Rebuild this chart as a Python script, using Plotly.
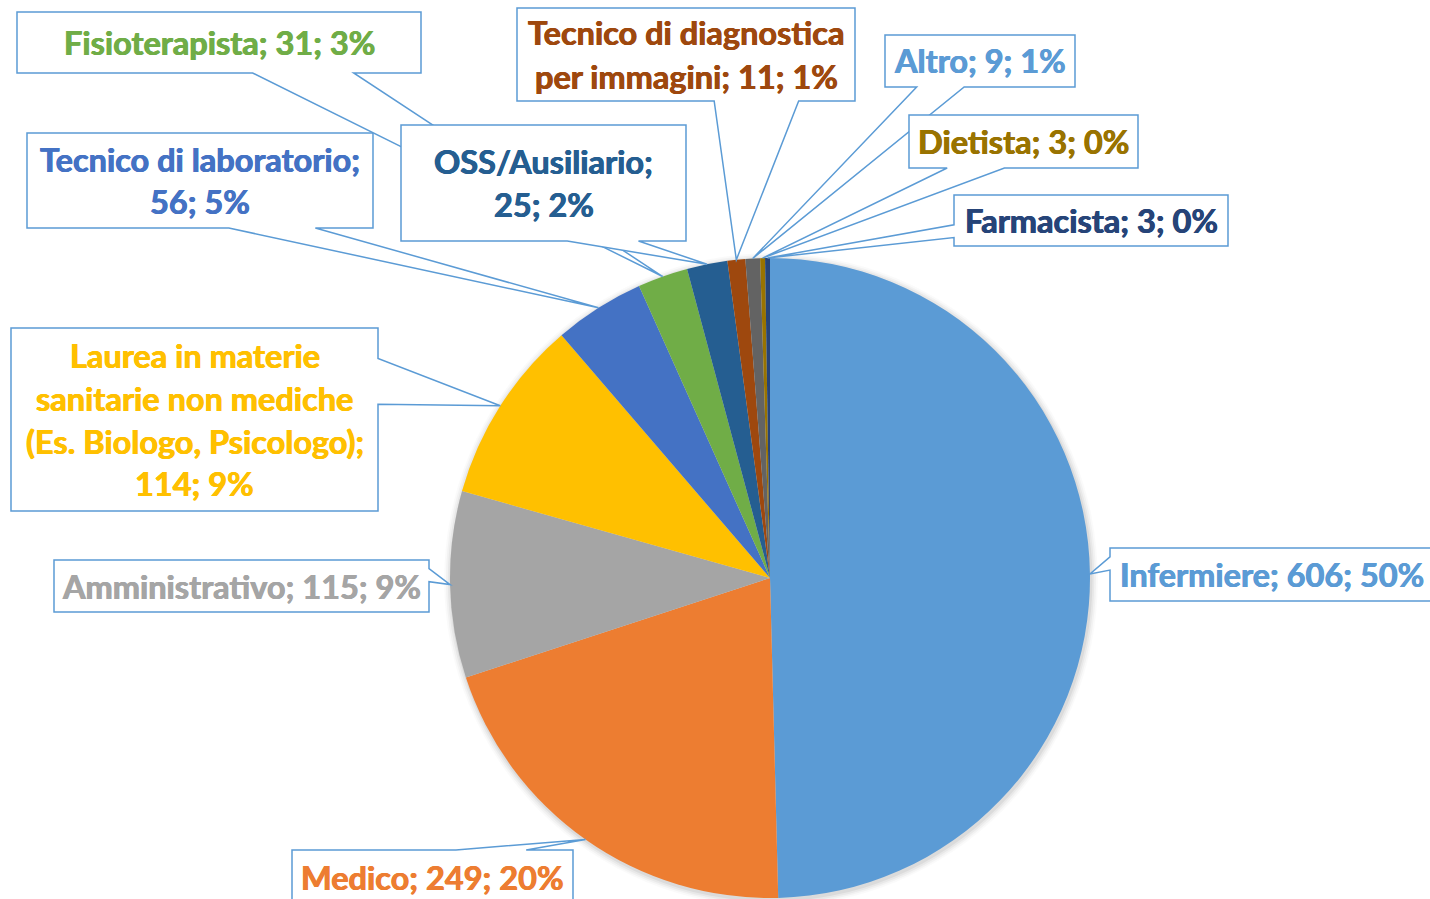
import math
import plotly.graph_objects as go

# ---------------- data ----------------
categories = [
    "Infermiere",
    "Medico",
    "Amministrativo",
    "Laurea in materie sanitarie non mediche (Es. Biologo, Psicologo)",
    "Tecnico di laboratorio",
    "Fisioterapista",
    "OSS/Ausiliario",
    "Tecnico di diagnostica per immagini",
    "Altro",
    "Dietista",
    "Farmacista",
]
values = [606, 249, 115, 114, 56, 31, 25, 11, 9, 3, 3]
slice_colors = ["#5B9BD5", "#ED7D31", "#A5A5A5", "#FFC000", "#4472C4", "#70AD47",
                "#255E91", "#9E480E", "#636363", "#997300", "#264478"]
label_colors = ["#5B9BD5", "#ED7D31", "#A5A5A5", "#FFC000", "#4472C4", "#70AD47",
                "#255E91", "#9E480E", "#5B9BD5", "#997300", "#264478"]
# words per line of each wrapped label
words_per_line = [[4], [3], [3], [3, 3, 3, 2], [3, 2], [3], [1, 2], [3, 4], [3], [3], [3]]

# ---------------- layout (pixels) ----------------
W, H = 1430, 899
CX, CY, R = 770, 578, 320
# callout boxes: (left, top, right, bottom)
boxes = [
    (1110, 548, 1433, 601),
    (292, 850, 573, 904),
    (54, 560, 429, 612),
    (11, 328, 378, 511),
    (27, 133, 373, 228),
    (17, 12, 421, 73),
    (401, 125, 686, 241),
    (517, 8, 855, 101),
    (885, 35, 1075, 87),
    (909, 115, 1138, 168),
    (954, 195, 1228, 246),
]
line_step = 43
FONT = "Lato"
FSIZE = 32.5
EDGE = "#5B9BD5"


def px(x):
    return x / W


def py(y):
    return 1 - y / H


total = sum(values)
fig = go.Figure()

fig.add_trace(go.Pie(
    labels=categories,
    values=values,
    sort=False,
    direction="clockwise",
    rotation=0,
    marker=dict(colors=slice_colors, line=dict(width=0)),
    textinfo="none",
    hoverinfo="label+value+percent",
    showlegend=False,
    domain=dict(x=[px(CX - R), px(CX + R)], y=[py(CY + R), py(CY - R)]),
))

shapes = []
# soft shadow around the pie
for i, op in enumerate([0.05, 0.04, 0.03, 0.02]):
    rr = R + 1.5 + i * 1.8
    shapes.append(dict(type="circle", xref="paper", yref="paper", layer="below",
                       x0=px(CX - rr + 1), x1=px(CX + rr + 1),
                       y0=py(CY + rr + 2), y1=py(CY - rr + 2),
                       fillcolor=f"rgba(0,0,0,{op})", line=dict(width=0)))

annotations = []
cum = 0
for i, v in enumerate(values):
    mid = (cum + v / 2) / total * 2 * math.pi
    cum += v
    tx = CX + R * math.sin(mid)
    ty = CY - R * math.cos(mid)
    l, t, r, b = boxes[i]
    w, h = r - l, b - t
    bcx, bcy = (l + r) / 2, (t + b) / 2
    dx, dy = tx - bcx, ty - bcy
    dz = abs(dy) - abs(dx) * h / w
    x1 = l + w * (7 if dx > 0 else 2) / 12
    x2 = l + w * (10 if dx > 0 else 5) / 12
    y1 = t + h * (7 if dy > 0 else 2) / 12
    y2 = t + h * (10 if dy > 0 else 5) / 12
    if dz > 0:
        if dy < 0:
            pts = [(l, t), (x1, t), (tx, ty), (x2, t), (r, t), (r, b), (l, b)]
        else:
            pts = [(l, t), (r, t), (r, b), (x2, b), (tx, ty), (x1, b), (l, b)]
    else:
        if dx < 0:
            pts = [(l, t), (r, t), (r, b), (l, b), (l, y2), (tx, ty), (l, y1)]
        else:
            pts = [(l, t), (r, t), (r, y1), (tx, ty), (r, y2), (r, b), (l, b)]
    path = "M " + " L ".join(f"{px(a):.6f},{py(c):.6f}" for a, c in pts) + " Z"
    shapes.append(dict(type="path", xref="paper", yref="paper", path=path,
                       fillcolor="white", line=dict(color=EDGE, width=1.5)))

    pct = round(v / total * 100)
    words = f"{categories[i]}; {v}; {pct}%".split(" ")
    lines, k = [], 0
    for n in words_per_line[i]:
        lines.append(" ".join(words[k:k + n]))
        k += n
    nl = len(lines)
    col = label_colors[i]
    for j, line in enumerate(lines):
        ly = bcy + (j - (nl - 1) / 2) * line_step
        annotations.append(dict(
            xref="paper", yref="paper", x=px(bcx), y=py(ly),
            xanchor="center", yanchor="middle", showarrow=False,
            text=f"<b>{line}</b>",
            font=dict(family=FONT, size=FSIZE, color=col,
                      shadow=f"0.45px 0 0 {col}, -0.45px 0 0 {col}"),
        ))

fig.update_layout(
    width=W, height=H,
    margin=dict(l=0, r=0, t=0, b=0),
    paper_bgcolor="white", plot_bgcolor="white",
    shapes=shapes, annotations=annotations,
)

fig.write_html("out.html", config={"displayModeBar": False},
               post_script="document.body.style.margin='0';")
